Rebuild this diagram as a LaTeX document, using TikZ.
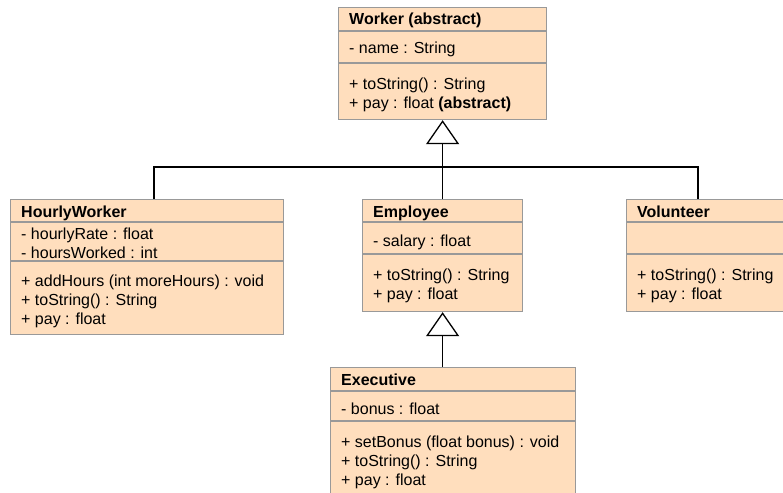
\documentclass[tikz,border=0pt]{standalone}
\usepackage{fontspec}
\setmainfont{Liberation Sans}
\usetikzlibrary{arrows.meta}
\definecolor{peach}{RGB}{255,222,189}
\definecolor{boxgray}{RGB}{153,153,153}
\begin{document}
\begin{tikzpicture}[x=1pt,y=-1pt,
  classbox/.style={draw=boxgray, fill=peach, line width=1.2pt, inner sep=0pt, anchor=north west},
  sepline/.style={draw=boxgray, line width=1.2pt},
  txt/.style={anchor=base west, inner sep=0pt, font=\fontsize{16}{19}\selectfont},
  hd/.style={anchor=base west, inner sep=0pt, font=\fontsize{16}{19}\selectfont\bfseries},
  conn/.style={draw=black, line width=1.3pt},
  inherit/.style={conn, -{Triangle[open, length=24pt, width=33pt, line width=1.3pt]}}
]
\clip (0,0) rectangle (783,492);
\fill[white] (0,0) rectangle (783,492);

% Worker
\node[classbox, minimum width=208pt, minimum height=112pt] (worker) at (338,7) {};
\draw[sepline] (338,31) -- (546,31);
\draw[sepline] (338,63) -- (546,63);
\node[hd]  (w0) at (349,25) {Worker (abstract)};
\node[txt] (w1) at (349,54) {- name : String};
\node[txt] (w2) at (349,89) {+ toString() : String};
\node[txt] (w3) at (349,109) {+ pay : float \textbf{(abstract)}};

% HourlyWorker
\node[classbox, minimum width=273pt, minimum height=135pt] (hourly) at (10,199) {};
\draw[sepline] (10,222) -- (283,222);
\draw[sepline] (10,261) -- (283,261);
\node[hd]  (h0) at (21,217) {HourlyWorker};
\node[txt] (h1) at (21,239) {- hourlyRate : float};
\node[txt] (h2) at (21,258) {- hoursWorked : int};
\node[txt] (h3) at (21,286) {+ addHours (int moreHours) : void};
\node[txt] (h4) at (21,305) {+ toString() : String};
\node[txt] (h5) at (21,324) {+ pay : float};

% Employee
\node[classbox, minimum width=160pt, minimum height=112pt] (employee) at (362,199) {};
\draw[sepline] (362,222) -- (522,222);
\draw[sepline] (362,254) -- (522,254);
\node[hd]  (e0) at (373,217) {Employee};
\node[txt] (e1) at (373,246) {- salary : float};
\node[txt] (e2) at (373,280) {+ toString() : String};
\node[txt] (e3) at (373,299) {+ pay : float};

% Volunteer (runs past the right edge of the picture)
\node[classbox, minimum width=180pt, minimum height=112pt] (volunteer) at (626,199) {};
\draw[sepline] (626,222) -- (806,222);
\draw[sepline] (626,254) -- (806,254);
\node[hd]  (v0) at (637,217) {Volunteer};
\node[txt] (v2) at (637,280) {+ toString() : String};
\node[txt] (v3) at (637,299) {+ pay : float};

% Executive (runs past the bottom edge of the picture)
\node[classbox, minimum width=245pt, minimum height=140pt] (executive) at (330,367) {};
\draw[sepline] (330,391) -- (575,391);
\draw[sepline] (330,421) -- (575,421);
\node[hd]  (x0) at (341,385) {Executive};
\node[txt] (x1) at (341,414) {- bonus : float};
\node[txt] (x2) at (341,447) {+ setBonus (float bonus) : void};
\node[txt] (x3) at (341,466) {+ toString() : String};
\node[txt] (x4) at (341,485) {+ pay : float};

% connectors
\coordinate (busL) at (154,167);
\coordinate (busR) at (698,167);
\draw[conn] (hourly.north -| busL) -- (busL) -- (busR) -- (volunteer.north -| busR);
\draw[inherit] (employee.north) -- (worker.south);
\draw[inherit] (executive.north -| employee.south) -- (employee.south);
\end{tikzpicture}
\end{document}
